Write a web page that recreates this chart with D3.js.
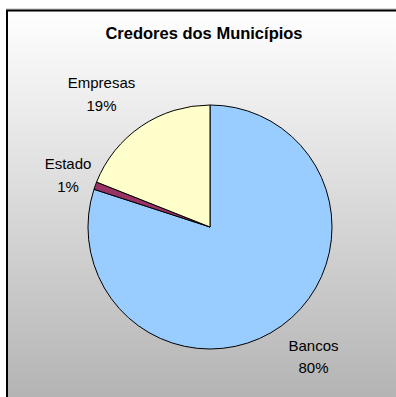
<!DOCTYPE html>
<html><head><meta charset="utf-8">
<script src="https://cdn.jsdelivr.net/npm/d3@7"></script>
<style>html,body{margin:0;padding:0;background:#fff;}svg{display:block;}</style>
</head><body>
<script>
const categories = ["Bancos", "Estado", "Empresas"];
const values = [80, 1, 19];
const percentLabels = ["80%", "1%", "19%"];
const colors = ["#99CCFF", "#993366", "#FFFFCC"];
const title = "Credores dos Municípios";

const W = 396, H = 397;
const svg = d3.select("body").append("svg").attr("width", W).attr("height", H);
const defs = svg.append("defs");
const grad = defs.append("linearGradient").attr("id", "bg").attr("x1", 0).attr("y1", 0).attr("x2", 0).attr("y2", 1);
grad.append("stop").attr("offset", "0%").attr("stop-color", "#ffffff");
grad.append("stop").attr("offset", "100%").attr("stop-color", "#b2b2b2");

svg.append("line").attr("x1", 6).attr("x2", W).attr("y1", 9).attr("y2", 9).attr("stroke", "#bbb").attr("stroke-width", 1);
svg.append("rect").attr("x", 7).attr("y", 10.5).attr("width", W).attr("height", H)
  .attr("fill", "url(#bg)").attr("stroke", "#000").attr("stroke-width", 2);

svg.append("text").attr("x", 204).attr("y", 38.5).attr("text-anchor", "middle")
  .attr("font-family", "Liberation Sans, Arial, sans-serif").attr("font-weight", "bold")
  .attr("font-size", 16.5).attr("fill", "#000").text(title);

const cx = 210, cy = 227, r = 122;
const pie = d3.pie().sort(null).value(d => d)(values);
const arc = d3.arc().innerRadius(0).outerRadius(r);
const g = svg.append("g").attr("transform", `translate(${cx},${cy})`);
g.selectAll("path").data(pie).join("path")
  .attr("d", arc).attr("fill", (d, i) => colors[i])
  .attr("stroke", "#000").attr("stroke-width", 1).attr("stroke-linejoin", "round");

// label positions relative to arc centroid direction
const labelR = [1.12, 1.25, 1.25];
const labelPos = [[313.5, 350.5], [68, 169.3], [101.5, 88.3]];
const lab = svg.append("g").attr("font-family", "Liberation Sans, Arial, sans-serif")
  .attr("font-size", 15).attr("fill", "#000").attr("text-anchor", "middle");
pie.forEach((d, i) => {
  const p = labelPos[i];
  lab.append("text").attr("x", p[0]).attr("y", p[1]).text(categories[i]);
  lab.append("text").attr("x", p[0]).attr("y", p[1] + 22.4).text(percentLabels[i]);
});
</script>
</body></html>
